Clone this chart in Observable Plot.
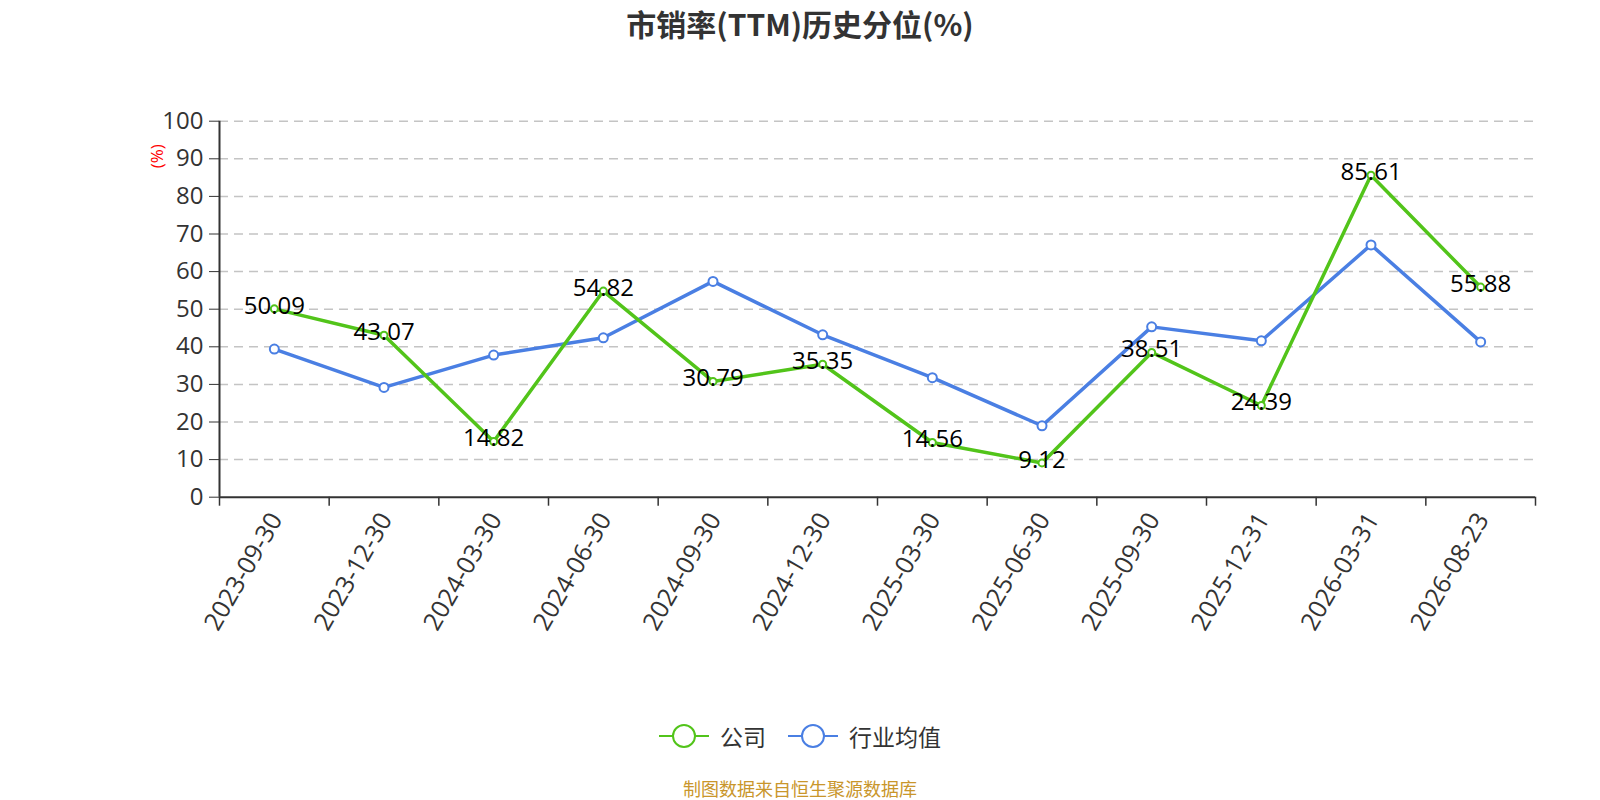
<!DOCTYPE html>
<html><head><meta charset="utf-8">
<script src="https://cdn.jsdelivr.net/npm/d3@7"></script>
<script src="https://cdn.jsdelivr.net/npm/@observablehq/plot@0.6"></script>
<style>
body{margin:0;background:#fff;font-family:"Open Sans","Noto Sans CJK SC",sans-serif;}
#wrap{position:relative;width:1600px;height:800px;overflow:hidden;background:#fff;}
#title{position:absolute;left:0;top:0;width:1600px;height:46px;line-height:46px;text-align:center;font-size:30px;font-weight:bold;color:#333;font-family:"Noto Sans CJK SC","Open Sans",sans-serif;}
#chart{position:absolute;left:0;top:46px;}
#legend{position:absolute;left:0;top:720px;width:1600px;height:32px;display:flex;justify-content:center;align-items:center;font-size:23px;color:#333;font-family:"Noto Sans CJK SC",sans-serif;}
#legend .item{display:flex;align-items:center;}
#legend .item svg{margin-right:11px;}
#legend .item + .item{margin-left:22px;}
#source{position:absolute;left:0;top:778px;width:1600px;height:20px;line-height:20px;text-align:center;font-size:18px;color:#c9962b;font-family:"Noto Sans CJK SC",sans-serif;}
</style>
</head><body>
<div id="wrap">
  <div id="title"></div>
  <div id="chart"></div>
  <div id="legend"></div>
  <div id="source"></div>
</div>
<script>
const titleText = "市销率(TTM)历史分位(%)";
const sourceText = "制图数据来自恒生聚源数据库";
const dates = ["2023-09-30","2023-12-30","2024-03-30","2024-06-30","2024-09-30","2024-12-30","2025-03-30","2025-06-30","2025-09-30","2025-12-31","2026-03-31","2026-08-23"];
const company = [50.09,43.07,14.82,54.82,30.79,35.35,14.56,9.12,38.51,24.39,85.61,55.88];
const industry = [39.4,29.2,37.8,42.4,57.4,43.2,31.8,19.0,45.3,41.6,67.1,41.3];
const yTicks = [0,10,20,30,40,50,60,70,80,90,100];
const seriesNames = ["公司","行业均值"];
const colors = ["#52c41a","#4a7fe3"];
const yLabel = "(%)";

document.getElementById("title").textContent = titleText;
document.getElementById("source").textContent = sourceText;

const rows = dates.map((d,i)=>({i, date:d, company:company[i], industry:industry[i]}));
const xc = d => d.i + 0.5;

const chart = Plot.plot({
  width:1600, height:640,
  marginLeft:219, marginRight:65, marginTop:74.7, marginBottom:189.3,
  x:{type:"linear", domain:[0, dates.length]},
  y:{domain:[0,100]},
  style:{fontFamily:'"Open Sans","Noto Sans CJK SC",sans-serif', background:"#fff", overflow:"visible"},
  marks:[
    Plot.gridY(yTicks.filter(v=>v>0), {stroke:"#c4c4c4", strokeOpacity:1, strokeWidth:1.5, strokeDasharray:"9,6"}),
    Plot.axisY({ticks:yTicks, tickSize:10, tickPadding:6, fontSize:24, stroke:"#333", fill:"#333", label:null}),
    Plot.axisX({ticks:d3.range(dates.length+1), tickSize:9, tickFormat:()=>"", stroke:"#333", strokeWidth:1.5, label:null}),
    Plot.ruleY([0], {stroke:"#333", strokeWidth:2}),
    Plot.ruleX([0], {stroke:"#333", strokeWidth:2}),
    Plot.text(dates, {x:(d,i)=>i+0.5, y:()=>0, text:d=>d, rotate:-60, textAnchor:"end", lineAnchor:"middle", dx:2, dy:18, fontSize:25, fill:"#333"}),
    Plot.text([yLabel], {frameAnchor:"top-left", text:d=>d, rotate:-90, textAnchor:"middle", lineAnchor:"middle", dx:-62, dy:35, fill:"red", fontSize:17}),
    Plot.line(rows, {x:xc, y:"industry", stroke:colors[1], strokeWidth:3.5}),
    Plot.dot(rows, {x:xc, y:"industry", r:4.5, fill:"white", stroke:colors[1], strokeWidth:2}),
    Plot.line(rows, {x:xc, y:"company", stroke:colors[0], strokeWidth:3.5}),
    Plot.dot(rows, {x:xc, y:"company", r:3.5, fill:"white", stroke:colors[0], strokeWidth:2}),
    Plot.text(rows, {x:xc, y:"company", text:d=>d.company.toFixed(2), fontSize:24, fill:"#000", dy:-3})
  ]
});
document.getElementById("chart").appendChild(chart);

const legend = document.getElementById("legend");
seriesNames.forEach((name,k)=>{
  const item = document.createElement("div");
  item.className = "item";
  item.innerHTML = `<svg width="50" height="26" viewBox="0 0 50 26"><line x1="0" y1="13" x2="50" y2="13" stroke="${colors[k]}" stroke-width="2"/><circle cx="25" cy="13" r="11" fill="white" stroke="${colors[k]}" stroke-width="2"/></svg><span>${name}</span>`;
  legend.appendChild(item);
});
</script>
</body></html>
